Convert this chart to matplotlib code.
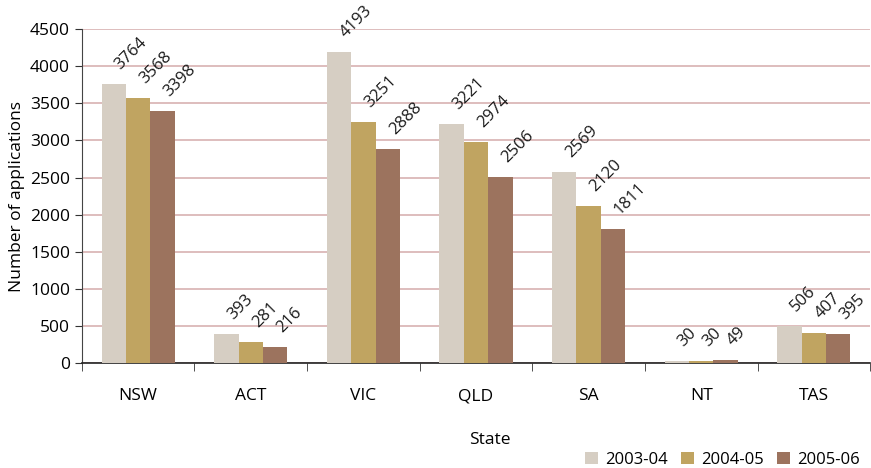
import numpy as np
import matplotlib
matplotlib.use("Agg")
import matplotlib.pyplot as plt

plt.rcParams['font.family'] = ['Open Sans', 'DejaVu Sans']

states = ["NSW", "ACT", "VIC", "QLD", "SA", "NT", "TAS"]
years = ["2003-04", "2004-05", "2005-06"]
apps_2003 = [3764, 393, 4193, 3221, 2569, 30, 506]
apps_2004 = [3568, 281, 3251, 2974, 2120, 30, 407]
apps_2005 = [3398, 216, 2888, 2506, 1811, 49, 395]
colors = ["#d6cec3", "#c0a461", "#9c735e"]


def main():
    fig = plt.figure(figsize=(8.71, 4.68), dpi=100)
    ax = fig.add_axes([0.094, 0.224, 0.905, 0.714])

    x = np.arange(len(states))
    width = 0.217
    series = [apps_2003, apps_2004, apps_2005]

    for i, (vals, col, yr) in enumerate(zip(series, colors, years)):
        pos = x + (i - 1) * width
        ax.bar(pos, vals, width, color=col, label=yr, zorder=3)
        # value labels, tilted 45 degrees above each bar
        for px, v in zip(pos, vals):
            ax.annotate(str(v), (px, v), xytext=(7, 8), textcoords="offset points",
                        rotation=45, rotation_mode="anchor", ha="left", va="bottom",
                        fontsize=12, color="#1a1a1a", zorder=4, annotation_clip=False)

    ax.set_xlim(-0.5, len(states) - 0.5)
    ax.set_ylim(0, 4500)
    ax.set_yticks(np.arange(0, 4501, 500))
    ax.yaxis.grid(True, color="#dbb8b8", linewidth=1.3, zorder=0)

    ax.set_xticks(x)
    ax.set_xticklabels(states)
    ax.set_xticks(np.arange(-0.5, len(states)), minor=True)
    ax.tick_params(axis="x", which="major", length=0, pad=18, labelsize=12.5)
    ax.tick_params(axis="x", which="minor", length=6, color="#333333")
    ax.tick_params(axis="y", length=5, color="#333333", labelsize=12.5)

    for s in ["top", "right"]:
        ax.spines[s].set_visible(False)
    ax.spines["left"].set_color("#444444")
    ax.spines["bottom"].set_color("#222222")
    ax.spines["bottom"].set_linewidth(1.2)

    ax.set_ylabel("Number of applications", fontsize=12.5)
    ax.set_xlabel("State", fontsize=12.5)
    ax.xaxis.set_label_coords(0.518, -0.205)

    ax.legend(loc="lower right", bbox_to_anchor=(1.006, -0.358), ncol=3, frameon=False,
              fontsize=12, handlelength=0.8, handleheight=0.8, handletextpad=0.4,
              columnspacing=0.8)

    fig.savefig("out.png", dpi=100)


if __name__ == "__main__":
    main()
